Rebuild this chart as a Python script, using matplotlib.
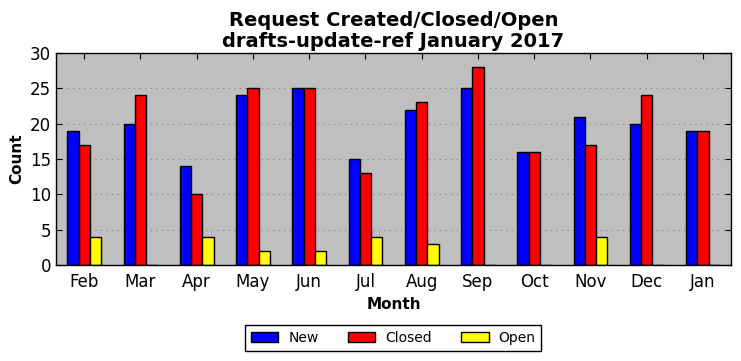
import numpy as np
import matplotlib
matplotlib.use('Agg')
import matplotlib.pyplot as plt

months = ['Feb', 'Mar', 'Apr', 'May', 'Jun', 'Jul', 'Aug', 'Sep', 'Oct', 'Nov', 'Dec', 'Jan']
new = [19, 20, 14, 24, 25, 15, 22, 25, 16, 21, 20, 19]
closed = [17, 24, 10, 25, 25, 13, 23, 28, 16, 17, 24, 19]
opened = [4, 0, 4, 2, 2, 4, 3, 0, 0, 4, 0, 0]

fig = plt.figure(figsize=(7.41, 3.61), dpi=100)
ax = fig.add_axes([56 / 741, 1 - 265 / 361, 675 / 741, 212 / 361])
ax.set_facecolor('#bfbfbf')

x = np.arange(len(months))
w = 0.2
ax.bar(x - w, new, w, color='blue', edgecolor='black', linewidth=1, label='New')
ax.bar(x, closed, w, color='red', edgecolor='black', linewidth=1, label='Closed')
ax.bar(x + w, opened, w, color='yellow', edgecolor='black', linewidth=1, label='Open')

ax.set_xlim(-0.5, 11.5)
ax.set_ylim(0, 30)
ax.set_xticks(x)
ax.set_xticklabels(months)
ax.set_yticks(range(0, 31, 5))
ax.tick_params(axis='both', direction='in', top=True, right=True, labelsize=12, length=4)
ax.tick_params(axis='x', pad=6)
ax.yaxis.grid(True, linestyle=(0, (1, 4)), color='#808080', linewidth=0.8)
ax.set_axisbelow(True)
for s in ax.spines.values():
    s.set_linewidth(1)

ax.set_xlabel('Month', fontsize=11, fontweight='bold')
ax.set_ylabel('Count', fontsize=11, fontweight='bold')
ax.set_title('Request Created/Closed/Open\ndrafts-update-ref January 2017', fontsize=14, fontweight='bold',
             linespacing=1.15, pad=4)

leg = fig.legend(loc='center', bbox_to_anchor=(393 / 741, 1 - 338 / 361), ncol=3, fontsize=10,
                 fancybox=False, framealpha=1, edgecolor='black', handlelength=2.0,
                 handletextpad=0.7, columnspacing=2.1)
leg.get_frame().set_linewidth(1)

fig.savefig('out.png', dpi=100)
